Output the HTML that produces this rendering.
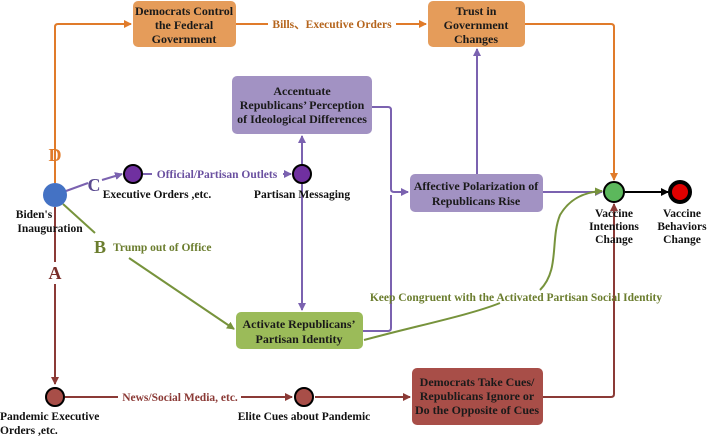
<!DOCTYPE html>
<html><head><meta charset="utf-8"><style>
html,body{margin:0;padding:0;background:#fff}
text{font-family:"Liberation Serif",serif;font-weight:bold}
</style></head><body>
<svg width="708" height="437" viewBox="0 0 708 437" xmlns="http://www.w3.org/2000/svg">
<defs>
<marker id="ao" markerWidth="8" markerHeight="8" refX="7" refY="4" orient="auto" markerUnits="userSpaceOnUse"><path d="M0,0 L8,4 L0,8z" fill="#e07b2a"/></marker>
<marker id="ap" markerWidth="8" markerHeight="8" refX="7" refY="4" orient="auto" markerUnits="userSpaceOnUse"><path d="M0,0 L8,4 L0,8z" fill="#7b62b0"/></marker>
<marker id="ag" markerWidth="8" markerHeight="8" refX="7" refY="4" orient="auto" markerUnits="userSpaceOnUse"><path d="M0,0 L8,4 L0,8z" fill="#77933c"/></marker>
<marker id="ab" markerWidth="8" markerHeight="8" refX="7" refY="4" orient="auto" markerUnits="userSpaceOnUse"><path d="M0,0 L8,4 L0,8z" fill="#8b3a36"/></marker>
<marker id="ak" markerWidth="8" markerHeight="8" refX="7" refY="4" orient="auto" markerUnits="userSpaceOnUse"><path d="M0,0 L8,4 L0,8z" fill="#000"/></marker>
</defs>
<g fill="none" stroke-width="2">
<path d="M55,183 V27 Q55,24 58,24 H131" stroke="#e07b2a" marker-end="url(#ao)"/>
<path d="M236,24 H268" stroke="#e07b2a"/>
<path d="M396,24 H426" stroke="#e07b2a" marker-end="url(#ao)"/>
<path d="M525,24 H611 Q614,24 614,27 V180" stroke="#e07b2a" marker-end="url(#ao)"/>
<path d="M66,191 L88,183" stroke="#7b62b0"/>
<path d="M102,180 L122,174" stroke="#7b62b0" marker-end="url(#ap)"/>
<path d="M143,174 H152" stroke="#7b62b0"/>
<path d="M283,174 H291" stroke="#7b62b0" marker-end="url(#ap)"/>
<path d="M302,165 V136" stroke="#7b62b0" marker-end="url(#ap)"/>
<path d="M302,184 V310" stroke="#7b62b0" marker-end="url(#ap)"/>
<path d="M372,107 H388 Q391,107 391,110 V189 Q391,192 394,192 H408" stroke="#7b62b0" marker-end="url(#ap)"/>
<path d="M363,331 H388 Q391,331 391,328 V195" stroke="#7b62b0"/>
<path d="M477,174 V49" stroke="#7b62b0" marker-end="url(#ap)"/>
<path d="M543,192 H602" stroke="#7b62b0" marker-end="url(#ap)"/>
<path d="M63,204 L95,233" stroke="#77933c"/>
<path d="M129,258 L234,329" stroke="#77933c" marker-end="url(#ag)"/>
<path d="M364,340 C420,325 470,315 500,303" stroke="#77933c"/>
<path d="M540,290 C560,270 550,240 560,215 C570,198 585,192 602,191" stroke="#77933c" marker-end="url(#ag)"/>
<path d="M55,207 V262" stroke="#8b3a36"/>
<path d="M55,284 V384" stroke="#8b3a36" marker-end="url(#ab)"/>
<path d="M65,397 H118" stroke="#8b3a36"/>
<path d="M241,397 H292" stroke="#8b3a36" marker-end="url(#ab)"/>
<path d="M315,397 H410" stroke="#8b3a36" marker-end="url(#ab)"/>
<path d="M543,397 H611 Q614,397 614,394 V204" stroke="#8b3a36" marker-end="url(#ab)"/>
<path d="M625,192 H668" stroke="#000" marker-end="url(#ak)"/>
</g>
<rect x="133" y="1" width="103" height="46" rx="5" fill="#e59c5a"/>
<rect x="428" y="1" width="97" height="46" rx="5" fill="#e59c5a"/>
<rect x="232" y="76" width="140" height="58" rx="5" fill="#a292c3"/>
<rect x="410" y="174" width="133" height="38" rx="5" fill="#a292c3"/>
<rect x="236" y="312" width="127" height="37" rx="5" fill="#9bbb59"/>
<rect x="412" y="368" width="131" height="57" rx="5" fill="#a84e48"/>
<circle cx="55" cy="195" r="12" fill="#4472c4"/>
<g stroke="#000" stroke-width="2"><circle cx="133" cy="174" r="9" fill="#7030a0"/><circle cx="302" cy="174" r="9" fill="#7030a0"/>
<circle cx="55" cy="397" r="9" fill="#a84e48"/><circle cx="304" cy="397" r="9" fill="#a84e48"/>
<circle cx="614" cy="192" r="10" fill="#5cb85c"/></g>
<circle cx="680" cy="192" r="10" fill="#e00000" stroke="#000" stroke-width="4"/>
<g font-size="12" text-anchor="middle" fill="#1a1a1a">
<text x="184" y="15">Democrats Control</text><text x="184" y="29">the Federal</text><text x="184" y="43">Government</text>
<text x="476" y="15">Trust in</text><text x="476" y="29">Government</text><text x="476" y="43">Changes</text>
<text x="302" y="95">Accentuate</text><text x="302" y="109">Republicans’ Perception</text><text x="302" y="123">of Ideological Differences</text>
<text x="476" y="190">Affective Polarization of</text><text x="476" y="205">Republicans  Rise</text>
<text x="299" y="328">Activate Republicans’</text><text x="299" y="343">Partisan Identity</text>
<text x="477" y="386">Democrats Take Cues/</text><text x="477" y="400">Republicans Ignore or</text><text x="477" y="414">Do the Opposite of Cues</text>
</g>
<g font-size="11.5" text-anchor="middle" fill="#111">
<text x="157" y="198">Executive Orders ,etc.</text>
<text x="302" y="198">Partisan Messaging</text>
<text x="34" y="218">Biden's</text><text x="50" y="232">Inauguration</text>
<text x="614" y="217">Vaccine</text><text x="614" y="230">Intentions</text><text x="614" y="243">Change</text>
<text x="682" y="217">Vaccine</text><text x="682" y="230">Behaviors</text><text x="682" y="243">Change</text>
<text x="304" y="420">Elite Cues about Pandemic</text>
</g>
<text x="0" y="420" font-size="11.5" fill="#111">Pandemic Executive</text>
<text x="0" y="434" font-size="11.5" fill="#111">Orders ,etc.</text>
<text x="332" y="28" font-size="11.5" text-anchor="middle" fill="#b5651d">Bills、Executive Orders</text>
<text x="217" y="178" font-size="11.5" text-anchor="middle" fill="#6a50a0">Official/Partisan Outlets</text>
<text x="180" y="401" font-size="11.5" text-anchor="middle" fill="#8b3a36">News/Social Media, etc.</text>
<text x="516" y="301" font-size="11.5" text-anchor="middle" fill="#6b7d2e">Keep Congruent with the Activated Partisan Social Identity</text>
<text x="113" y="251" font-size="11.5" fill="#6b7d2e">Trump out of Office</text>
<text x="100" y="253" font-size="18" text-anchor="middle" fill="#6b7d2e">B</text>
<text x="94" y="191" font-size="18" text-anchor="middle" fill="#5a4a90">C</text>
<text x="55" y="161" font-size="18" text-anchor="middle" fill="#e07b2a">D</text>
<text x="55" y="279" font-size="18" text-anchor="middle" fill="#7a2e2a">A</text>
</svg>
</body></html>
